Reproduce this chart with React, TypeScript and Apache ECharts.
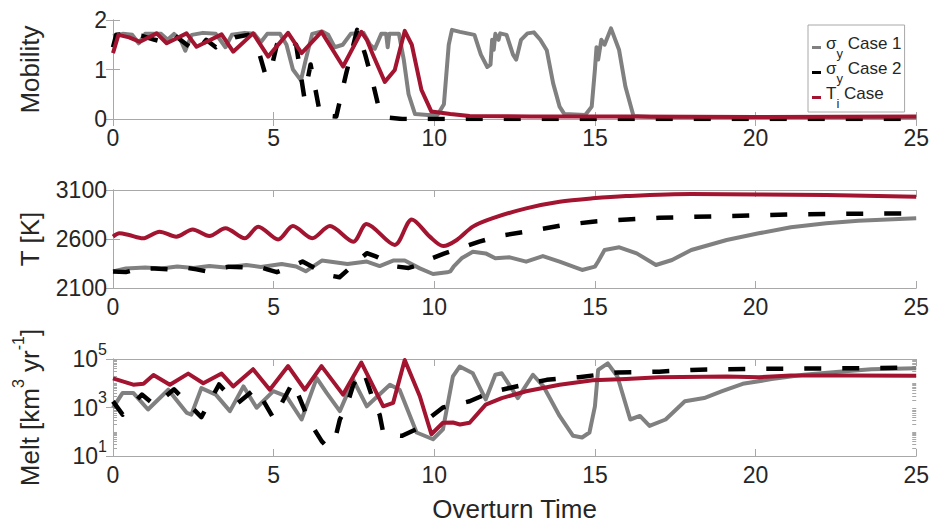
import React, { useEffect, useRef } from 'react';
import * as echarts from 'echarts';

// ---------- data ----------
const seriesNames = ['σy Case 1', 'σy Case 2', 'Ti Case'];
const seriesColors = ['#808080', '#000000', '#A2142F'];

const xTicks = [0, 5, 10, 15, 20, 25];
const mobilityTicks = [0, 1, 2];
const tempTicks = [2100, 2600, 3100];
const meltMajorTicks = [10, 1000, 100000];
const meltMinorTicks = [
  20, 30, 40, 50, 60, 70, 80, 90, 100,
  200, 300, 400, 500, 600, 700, 800, 900,
  2000, 3000, 4000, 5000, 6000, 7000, 8000, 9000, 10000,
  20000, 30000, 40000, 50000, 60000, 70000, 80000, 90000,
];

// Mobility
const mobCase1 = [
  [0, 1.68], [0.3, 1.72], [0.6, 1.7], [0.8, 1.53], [1.0, 1.72], [1.5, 1.72], [1.7, 1.6], [1.9, 1.72],
  [2.1, 1.6], [2.25, 1.38], [2.45, 1.7], [2.8, 1.74], [3.2, 1.72], [3.5, 1.45], [3.7, 1.7], [4.1, 1.74],
  [4.4, 1.72], [4.6, 1.55], [4.8, 1.72], [5.2, 1.72], [5.4, 1.5], [5.6, 1.0], [5.85, 0.78], [6.0, 1.2],
  [6.2, 1.72], [6.5, 1.77], [6.7, 1.7], [6.9, 1.45], [7.15, 1.5], [7.4, 1.72], [7.8, 1.74], [8.0, 1.5],
  [8.15, 1.42], [8.35, 1.72], [8.5, 1.72], [8.55, 1.45], [8.6, 1.72], [8.9, 1.72], [9.05, 1.2], [9.2, 0.5],
  [9.4, 0.1], [9.8, 0.08], [10.1, 0.08], [10.3, 0.3], [10.45, 1.5], [10.55, 1.8], [10.8, 1.76], [11.25, 1.7],
  [11.45, 1.3], [11.65, 1.05], [11.75, 1.1], [11.8, 1.6], [11.85, 1.4], [11.9, 1.72], [12.0, 1.6], [12.05, 1.73],
  [12.25, 1.7], [12.45, 1.3], [12.55, 1.2], [12.7, 1.6], [12.9, 1.73], [13.1, 1.75], [13.3, 1.6], [13.5, 1.39],
  [13.7, 0.72], [13.9, 0.25], [14.05, 0.1], [14.7, 0.08], [14.9, 0.25], [15.0, 1.0], [15.05, 1.45], [15.1, 1.2],
  [15.2, 1.6], [15.3, 1.5], [15.5, 1.83], [15.75, 1.4], [15.95, 0.65], [16.2, 0.06], [17, 0.03], [25, 0.03],
];
const mobCase2 = [
  [0, 1.45], [0.1, 1.7], [0.4, 1.72], [0.9, 1.68], [1.3, 1.6], [1.6, 1.55], [1.9, 1.7], [2.3, 1.5],
  [2.6, 1.35], [2.9, 1.6], [3.2, 1.45], [3.4, 1.55], [3.8, 1.65], [4.2, 1.7], [4.5, 1.45], [4.75, 0.88],
  [4.9, 0.95], [5.1, 1.5], [5.4, 1.65], [5.7, 1.5], [5.95, 0.45], [6.15, 1.1], [6.3, 0.6], [6.45, 0.08],
  [6.95, 0.05], [7.25, 0.9], [7.6, 1.8], [7.85, 1.3], [8.1, 0.7], [8.3, 0.15], [8.5, 0.03], [9, 0.0],
  [10, 0.0], [25, 0.0],
];
const mobTi = [
  [0, 1.33], [0.17, 1.7], [0.5, 1.65], [0.84, 1.56], [1.36, 1.73], [1.67, 1.53], [2.29, 1.73], [2.6, 1.46],
  [3.38, 1.71], [3.74, 1.36], [4.36, 1.73], [4.83, 1.26], [5.45, 1.74], [5.87, 1.33], [6.49, 1.76], [7.16, 1.06],
  [7.73, 1.76], [7.9, 1.6], [8.09, 1.3], [8.46, 0.75], [8.77, 0.99], [9.08, 1.78], [9.3, 1.5], [9.6, 0.59],
  [9.91, 0.15], [10.5, 0.1], [11.1, 0.06], [13, 0.05], [16, 0.05], [20, 0.04], [25, 0.05],
];

// Temperature [K]
const tempCase1 = [
  [0, 2270], [0.4, 2300], [1.0, 2310], [1.5, 2300], [2.0, 2320], [2.5, 2305], [3.0, 2325], [3.5, 2310],
  [4.15, 2335], [4.6, 2315], [5.25, 2345], [5.7, 2320], [6.0, 2270], [6.5, 2380], [7.3, 2345], [7.9, 2370],
  [8.3, 2324], [8.72, 2380], [9.08, 2380], [9.55, 2300], [9.96, 2243], [10.4, 2260], [10.5, 2270], [10.6, 2317],
  [10.85, 2403], [11.2, 2470], [11.6, 2453], [11.9, 2403], [12.35, 2413], [12.86, 2369], [13.38, 2426], [13.9, 2369],
  [14.6, 2284], [15.0, 2318], [15.1, 2370], [15.3, 2488], [15.76, 2515], [16.3, 2453], [16.9, 2335], [17.4, 2386],
  [18.0, 2488], [19.1, 2590], [20.1, 2658], [21.1, 2719], [22.2, 2760], [23.2, 2787], [25, 2811],
];
const tempCase2 = [
  [0, 2268], [0.4, 2262], [0.8, 2295], [1.3, 2300], [1.8, 2290], [2.3, 2305], [2.6, 2290], [2.9, 2270],
  [3.3, 2300], [3.6, 2318], [4.1, 2310], [4.5, 2320], [4.8, 2290], [5.1, 2262], [5.5, 2310], [5.9, 2370],
  [6.4, 2284], [6.8, 2225], [7.05, 2210], [7.48, 2335], [7.9, 2455], [8.2, 2420], [8.5, 2370], [8.8, 2320],
  [9.2, 2305], [9.55, 2340], [9.9, 2400], [10.3, 2450], [10.8, 2505], [11.4, 2573], [12.0, 2630], [12.86, 2675],
  [14.0, 2740], [14.93, 2777], [16.0, 2800], [17.0, 2817], [19.1, 2834], [21.1, 2851], [23, 2858], [25, 2862],
];
const tempTi = [
  [0, 2624], [0.2, 2658], [0.5, 2640], [0.93, 2607], [1.45, 2675], [1.97, 2624], [2.48, 2698], [3.0, 2630],
  [3.5, 2709], [4.1, 2607], [4.52, 2726], [5.14, 2596], [5.6, 2732], [6.2, 2607], [6.75, 2732], [7.48, 2573],
  [7.89, 2753], [8.77, 2539], [9.3, 2800], [9.86, 2624], [10.28, 2528], [10.7, 2590], [11.2, 2726], [11.8, 2810],
  [12.86, 2913], [13.9, 2980], [14.93, 3015], [15.97, 3038], [18.0, 3059], [20.1, 3055], [22.2, 3049], [25, 3032],
];

// Melt [km^3 yr^-1]
const meltCase1 = [
  [0, 980], [0.3, 4000], [0.63, 4000], [1.09, 830], [1.72, 5400], [2.3, 600], [2.44, 510], [2.75, 6300],
  [3.2, 3400], [3.64, 710], [4.06, 7400], [4.47, 980], [4.99, 4700], [5.4, 2900], [5.87, 320], [6.34, 16200],
  [6.65, 4000], [7.06, 710], [7.48, 13800], [7.9, 1120], [8.62, 8700], [8.92, 5400], [9.45, 93], [9.96, 49],
  [10.27, 126], [10.58, 19000], [10.79, 49000], [11.2, 25700], [11.6, 2140], [11.9, 22400], [12.1, 25700], [12.6, 2450],
  [13.07, 22400], [13.4, 7400], [13.9, 447], [14.32, 68], [14.6, 58], [14.83, 93], [15.0, 1120], [15.1, 35500],
  [15.4, 66000], [15.7, 19000], [16.1, 320], [16.4, 447], [16.7, 174], [17.2, 320], [17.8, 1800], [18.4, 2450],
  [18.96, 4700], [19.6, 9500], [20.5, 14800], [21.5, 22400], [22.6, 30000], [23.6, 38000], [25, 41700],
];
const meltCase2 = [
  [0, 1800], [0.3, 510], [0.9, 3400], [1.3, 1260], [1.9, 5600], [2.75, 400], [3.3, 8900], [3.85, 1400],
  [4.45, 6300], [5.0, 355], [5.6, 11200], [6.0, 600], [6.2, 174], [6.5, 40], [6.65, 25], [6.9, 42],
  [7.06, 316], [7.27, 1120], [7.48, 8700], [7.73, 30000], [7.8, 31600], [8.1, 2000], [8.3, 500], [8.42, 79],
  [9.0, 68], [9.55, 148], [9.86, 380], [10.27, 1000], [11.1, 1800], [11.7, 4000], [12.1, 5400], [13.0, 10000],
  [13.5, 13800], [14.5, 17800], [15.7, 28000], [17.0, 30000], [18.0, 35500], [19.0, 38000], [21, 40000], [23, 41700],
  [25, 44700],
];
const meltTi = [
  [0, 16000], [0.63, 8700], [0.95, 9500], [1.26, 22000], [1.77, 8700], [2.34, 25000], [2.81, 10000], [3.38, 25000],
  [3.74, 7400], [4.36, 38000], [4.88, 5400], [5.45, 51000], [5.97, 5400], [6.49, 51000], [7.16, 3400], [7.73, 71000],
  [8.41, 1120], [8.72, 1550], [9.08, 91000], [9.55, 2900], [9.91, 79], [10.27, 234], [10.58, 240], [10.8, 200],
  [11.1, 234], [11.6, 1320], [12.1, 2450], [12.86, 4700], [13.9, 8700], [14.93, 13200], [15.97, 15100], [17.0, 17800],
  [19.1, 19000], [20.1, 17800], [21.1, 21000], [23, 21000], [25, 20400],
];

// ---------- styling ----------
const FONT = 'Liberation Sans, Arial, Helvetica, sans-serif';
const AXIS_COLOR = '#a8a8a8';
const TEXT_COLOR = '#262626';
const TICK_FONT = 23;

const gridTops = [20, 190, 359];
const gridHeights = [99, 98, 98];

function xAxesFor(grid: number, withName: boolean) {
  const base = {
    type: 'value',
    gridIndex: grid,
    min: 0,
    max: 25,
    interval: 5,
    splitLine: { show: false },
    axisLine: { show: true, lineStyle: { color: AXIS_COLOR, width: 1 } },
    axisTick: { show: true, inside: true, length: 7, lineStyle: { color: AXIS_COLOR } },
  };
  return [
    {
      ...base,
      position: 'bottom',
      axisLabel: {
        show: true,
        margin: 7,
        fontSize: TICK_FONT,
        color: TEXT_COLOR,
        fontFamily: FONT,
        customValues: xTicks,
      },
      name: withName ? 'Overturn Time' : '',
      nameLocation: 'middle',
      nameGap: 40,
      nameTextStyle: { fontSize: 26, color: TEXT_COLOR, fontFamily: FONT },
    },
    { ...base, position: 'top', axisLabel: { show: false } },
  ];
}

export default function App() {
  const ref = useRef<HTMLDivElement>(null);

  useEffect(() => {
    if (!ref.current) return;
    document.body.style.margin = '0';
    const chart = echarts.init(ref.current, undefined, { renderer: 'svg' });

    const yName = {
      nameLocation: 'middle',
      nameGap: 70,
      nameTextStyle: { fontSize: 26, color: TEXT_COLOR, fontFamily: FONT },
    };
    const yLabel = { show: true, margin: 6, fontSize: TICK_FONT, color: TEXT_COLOR, fontFamily: FONT };
    const yLine = { show: true, lineStyle: { color: AXIS_COLOR, width: 1 } };
    const yTick = { show: true, inside: true, length: 7, lineStyle: { color: AXIS_COLOR } };

    const yAxes: any[] = [
      // panel 0: Mobility
      {
        type: 'value', gridIndex: 0, position: 'left', min: 0, max: 2, interval: 1,
        splitLine: { show: false }, axisLine: yLine, axisTick: yTick,
        axisLabel: { ...yLabel, customValues: mobilityTicks },
        name: 'Mobility', ...yName,
      },
      {
        type: 'value', gridIndex: 0, position: 'right', min: 0, max: 2, interval: 1,
        splitLine: { show: false }, axisLine: yLine, axisTick: yTick, axisLabel: { show: false },
      },
      // panel 1: T [K]
      {
        type: 'value', gridIndex: 1, position: 'left', min: 2100, max: 3100,
        splitLine: { show: false }, axisLine: yLine,
        axisTick: { ...yTick, customValues: tempTicks },
        axisLabel: { ...yLabel, customValues: tempTicks, formatter: (v: number) => String(v) },
        name: 'T [K]', ...yName,
      },
      {
        type: 'value', gridIndex: 1, position: 'right', min: 2100, max: 3100,
        splitLine: { show: false }, axisLine: yLine,
        axisTick: { ...yTick, customValues: tempTicks }, axisLabel: { show: false },
      },
      // panel 2: Melt (log)
      {
        type: 'log', logBase: 10, gridIndex: 2, position: 'left', min: 10, max: 100000,
        splitLine: { show: false }, axisLine: yLine,
        axisTick: { ...yTick, customValues: meltMajorTicks },
        axisLabel: {
          ...yLabel,
          customValues: meltMajorTicks,
          formatter: (v: number) => `{b|10}{s|${Math.round(Math.log10(v))}}`,
          rich: {
            b: { fontSize: TICK_FONT, lineHeight: 36, verticalAlign: 'middle', color: TEXT_COLOR, fontFamily: FONT },
            s: { fontSize: 16, verticalAlign: 'top', color: TEXT_COLOR, fontFamily: FONT },
          },
        },
        name: '{m|Melt [km}{s|3}{m| yr}{s|-1}{m|]}',
        nameLocation: 'middle',
        nameGap: 70,
        nameTextStyle: {
          fontSize: 26, color: TEXT_COLOR, fontFamily: FONT,
          rich: {
            m: { fontSize: 26, lineHeight: 33, verticalAlign: 'bottom', color: TEXT_COLOR, fontFamily: FONT },
            s: { fontSize: 16, verticalAlign: 'top', color: TEXT_COLOR, fontFamily: FONT },
          },
        },
      },
      {
        type: 'log', logBase: 10, gridIndex: 2, position: 'right', min: 10, max: 100000,
        splitLine: { show: false }, axisLine: yLine,
        axisTick: { ...yTick, customValues: meltMajorTicks }, axisLabel: { show: false },
      },
      {
        type: 'log', logBase: 10, gridIndex: 2, position: 'left', min: 10, max: 100000,
        splitLine: { show: false }, axisLine: { show: false },
        axisTick: { ...yTick, length: 4, customValues: meltMinorTicks }, axisLabel: { show: false },
      },
      {
        type: 'log', logBase: 10, gridIndex: 2, position: 'right', min: 10, max: 100000,
        splitLine: { show: false }, axisLine: { show: false },
        axisTick: { ...yTick, length: 4, customValues: meltMinorTicks }, axisLabel: { show: false },
      },
    ];

    const panelData = [
      [mobCase1, mobCase2, mobTi],
      [tempCase1, tempCase2, tempTi],
      [meltCase1, meltCase2, meltTi],
    ];
    const yIndexForPanel = [0, 2, 4];

    const series: any[] = [];
    panelData.forEach((group, p) => {
      group.forEach((data, k) => {
        series.push({
          type: 'line',
          name: seriesNames[k],
          data,
          xAxisIndex: p * 2,
          yAxisIndex: yIndexForPanel[p],
          showSymbol: false,
          symbol: 'none',
          smooth: p === 1 && k === 2 ? 0.3 : false,
          color: seriesColors[k],
          lineStyle: {
            color: seriesColors[k],
            width: k === 1 ? 4.5 : 4,
            type: k === 1 ? [17, 21] : 'solid',
            cap: 'butt',
            join: 'round',
          },
          z: 2 + k,
        });
      });
    });

    const legendText: Record<string, string> = {
      'σy Case 1': '{m|σ}{u|y}{m| Case 1}',
      'σy Case 2': '{m|σ}{u|y}{m| Case 2}',
      'Ti Case': '{m|T}{u|i}{m| Case}',
    };

    chart.setOption({
      animation: false,
      backgroundColor: '#ffffff',
      grid: gridTops.map((top, i) => ({
        left: 113, width: 804, top, height: gridHeights[i], containLabel: false, show: false,
      })),
      xAxis: [...xAxesFor(0, false), ...xAxesFor(1, false), ...xAxesFor(2, true)],
      yAxis: yAxes,
      legend: {
        data: seriesNames,
        orient: 'vertical',
        left: 808,
        top: 25,
        icon: 'rect',
        itemWidth: 9,
        itemHeight: 3,
        itemGap: 0,
        padding: [10, 3, 2, 4],
        borderColor: AXIS_COLOR,
        borderWidth: 1,
        backgroundColor: '#ffffff',
        z: 10,
        selectedMode: false,
        formatter: (name: string) => legendText[name] || name,
        textStyle: {
          fontSize: 17,
          color: TEXT_COLOR,
          fontFamily: FONT,
          rich: {
            m: { fontSize: 17, lineHeight: 17, verticalAlign: 'top', color: TEXT_COLOR, fontFamily: FONT },
            u: { fontSize: 13, lineHeight: 25, verticalAlign: 'bottom', color: TEXT_COLOR, fontFamily: FONT },
          },
        },
      },
      series,
    });

    return () => {
      chart.dispose();
    };
  }, []);

  return (
    <div
      ref={ref}
      style={{ position: 'fixed', left: 0, top: 0, width: 932, height: 523, background: '#fff' }}
    />
  );
}
